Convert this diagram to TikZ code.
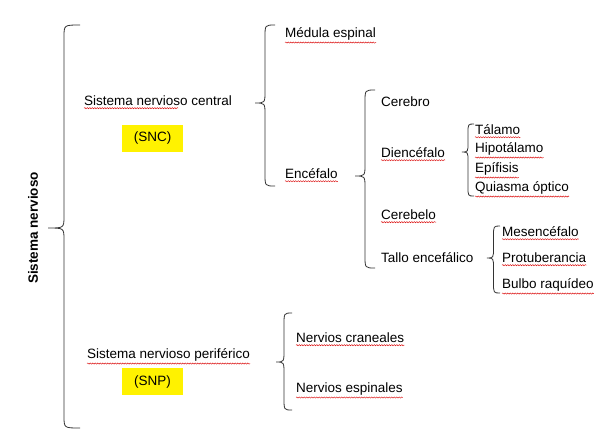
\documentclass[tikz,border=0pt]{standalone}
\usepackage{fontspec}
\setmainfont{Liberation Sans}
\usetikzlibrary{decorations.pathmorphing}
\begin{document}
\begin{tikzpicture}[x=1pt,y=-1pt,
  lbl/.style={anchor=west,inner sep=1pt,font=\fontsize{13.5}{15}\selectfont},
  hl/.style={fill=yellow,minimum width=61pt,minimum height=27pt,inner sep=0pt,font=\fontsize{13.5}{15}\selectfont},
  brace/.style={draw=black!80,line width=0.8pt},
  squig/.style={draw=red!85!black,line width=0.4pt,decorate,decoration={snake,amplitude=0.6pt,segment length=2.5pt}}]
\useasboundingbox (0,0) rectangle (609,445);
% brace macro: #1 tip x, #2 end x, #3 top y, #4 tip y, #5 bottom y
\newcommand\mybrace[5]{%
  \pgfmathsetmacro\sx{(#1+#2)/2}%
  \pgfmathsetmacro\rr{min(12,(#4-#3)/3)}%
  \draw[brace] (#2,#3) .. controls (\sx,#3) and (\sx,#3) .. (\sx,#3+\rr)
    -- (\sx,#4-\rr) .. controls (\sx,#4) .. (#1,#4)
    .. controls (\sx,#4) .. (\sx,#4+\rr)
    -- (\sx,#5-\rr) .. controls (\sx,#5) and (\sx,#5) .. (#2,#5);}
\mybrace{48}{80}{25}{228}{428}
\mybrace{255}{275}{25}{103}{186}
\mybrace{355}{375}{90}{176}{268}
\mybrace{462}{474}{124}{152}{196}
\mybrace{487}{500}{226}{258}{293}
\mybrace{276}{292}{313}{362}{410}

\node[rotate=90,font=\fontsize{13.5}{15}\selectfont\bfseries] (sn) at (33,228) {Sistema nervioso};
\node[lbl] (snc) at (83,101) {Sistema nervioso central};
\node[hl] (snca) at (152.5,138.5) {(SNC)};
\node[lbl] (med) at (284,34) {Médula espinal};
\node[lbl] (enc) at (284,174) {Encéfalo};
\node[lbl] (cer) at (380,102) {Cerebro};
\node[lbl] (die) at (380,153) {Diencéfalo};
\node[lbl] (tal) at (474,130) {Tálamo};
\node[lbl] (hip) at (474,149) {Hipotálamo};
\node[lbl] (epi) at (474,169) {Epífisis};
\node[lbl] (qui) at (474,188) {Quiasma óptico};
\node[lbl] (ceb) at (380,215) {Cerebelo};
\node[lbl] (tallo) at (380,258) {Tallo encefálico};
\node[lbl] (mes) at (501,232) {Mesencéfalo};
\node[lbl] (pro) at (501,258) {Protuberancia};
\node[lbl] (bul) at (501,285) {Bulbo raquídeo};
\node[lbl] (snp) at (86,355) {Sistema nervioso periférico};
\node[hl] (snpa) at (152.5,381.5) {(SNP)};
\node[lbl] (ncr) at (295,338) {Nervios craneales};
\node[lbl] (nes) at (295,389) {Nervios espinales};

\foreach \n in {med,enc,die,tal,hip,epi,qui,ceb,mes,pro,bul,snp,ncr,nes}
  \draw[squig] ([xshift=1pt,yshift=-1pt]\n.south west) -- ([xshift=-1pt,yshift=-1pt]\n.south east);
\draw[squig] ([xshift=1pt,yshift=-1pt]snc.south west) -- ([xshift=-55pt,yshift=-1pt]snc.south east);
\end{tikzpicture}
\end{document}
